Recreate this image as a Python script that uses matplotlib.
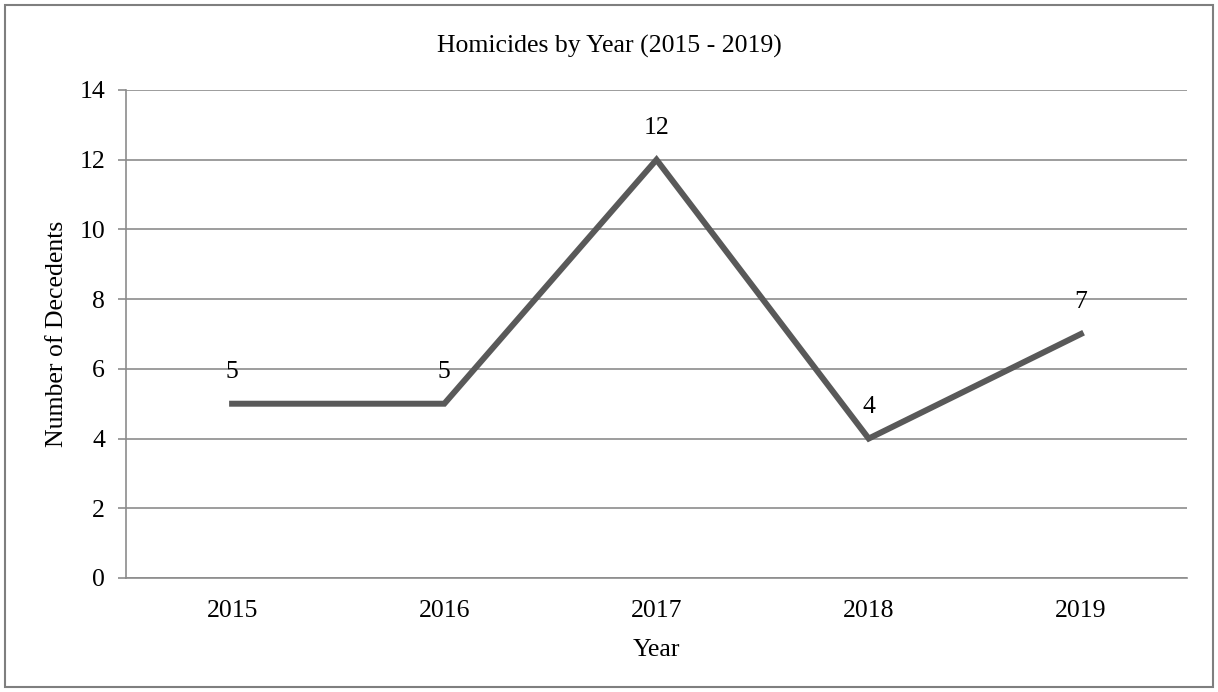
import matplotlib.pyplot as plt
from matplotlib.patches import Rectangle

years = ["2015", "2016", "2017", "2018", "2019"]
homicides = [5, 5, 12, 4, 7]
y_ticks = [0, 2, 4, 6, 8, 10, 12, 14]

plt.rcParams['font.family'] = ['Liberation Serif', 'DejaVu Serif']
FS = 18.5

fig = plt.figure(figsize=(12.18, 6.92), dpi=100)
ax = fig.add_axes([126 / 1218, 1 - 578 / 692, (1187 - 126) / 1218, (578 - 90) / 692])

grid_color = "#8c8c8c"
x = list(range(len(years)))
ax.plot(x, homicides, color="#595959", linewidth=4.3, solid_joinstyle="miter", zorder=3)

for xi, v in zip(x, homicides):
    ax.annotate(str(v), (xi, v), xytext=(0, 23), textcoords="offset points",
                ha="center", va="center", fontsize=FS, color="black")

ax.set_xlim(-0.5, len(years) - 0.5)
ax.set_ylim(0, 14)
ax.set_yticks(y_ticks)
ax.set_xticks(x)
ax.set_xticklabels(years)
ax.tick_params(axis="x", length=0, pad=16, labelsize=FS)
ax.tick_params(axis="y", length=6, width=1.2, color=grid_color, pad=9, labelsize=FS)
ax.yaxis.grid(True, color=grid_color, linewidth=1.2)
ax.set_axisbelow(True)
for side in ("top", "right"):
    ax.spines[side].set_visible(False)
ax.spines["left"].set_color(grid_color)
ax.spines["bottom"].set_color(grid_color)
ax.spines["left"].set_linewidth(1.2)
ax.spines["bottom"].set_linewidth(1.2)

ax.set_xlabel("Year", fontsize=FS, labelpad=12)
ax.set_ylabel("Number of Decedents", fontsize=FS, labelpad=8)
fig.text(0.5, 1 - 46 / 692, "Homicides by Year (2015 - 2019)", ha="center", va="center", fontsize=FS)

fig.patches.append(Rectangle((5 / 1218, 5 / 692), 1 - 10 / 1218, 1 - 10 / 692,
                             transform=fig.transFigure, fill=False,
                             edgecolor="#7f7f7f", linewidth=1.5))

fig.savefig("out.png", dpi=100)
